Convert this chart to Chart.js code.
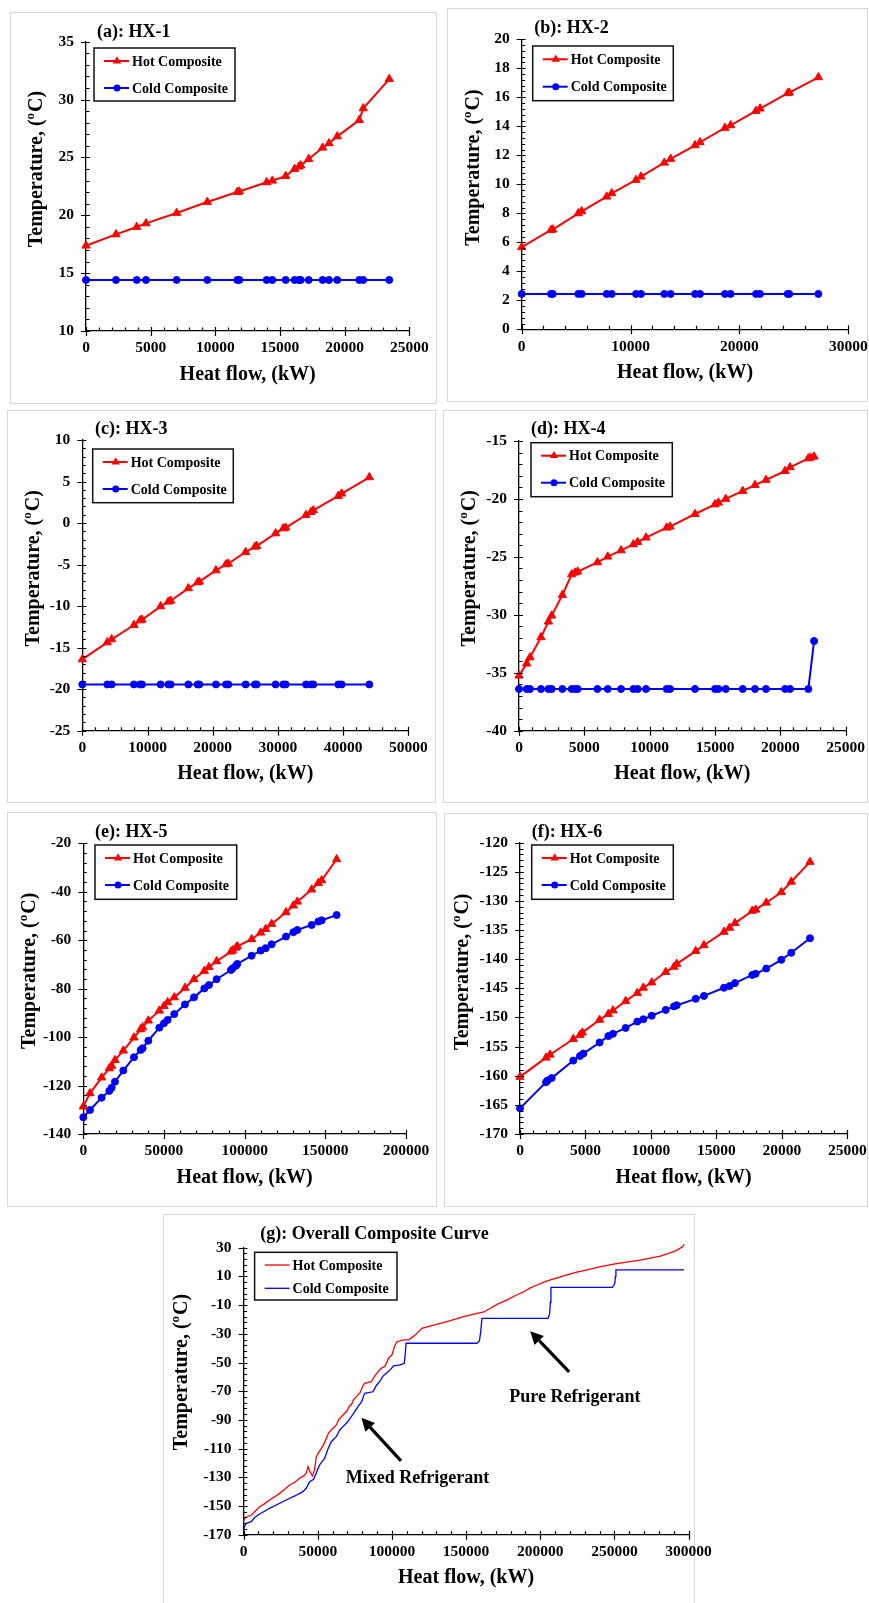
<!DOCTYPE html>
<html>
<head>
<meta charset="utf-8">
<title>Composite curves HX-1 to HX-6</title>
<script src="https://cdn.jsdelivr.net/npm/chart.js@4.4.1/dist/chart.umd.min.js"></script>
<style>
  html, body { margin: 0; padding: 0; background: #fff; }
  body { position: relative; width: 869px; height: 1603px; overflow: hidden; }
  .frame { position: absolute; box-sizing: border-box; border: 1px solid #d6d6d6; }
  canvas { position: absolute; }
</style>
</head>
<body>
<script>
// ---- data (heat flow in kW, temperature in degC) ----
var hx1Flow = [0, 2320, 3920, 4640, 7010, 9380, 11700, 11860, 13970, 14410, 15440, 16130, 16470, 16600, 17220, 18300, 18790, 19430, 21130, 21440, 23450];
var hx1Hot = [17.37, 18.35, 18.99, 19.30, 20.20, 21.15, 22.01, 22.05, 22.85, 22.99, 23.39, 24.00, 24.20, 24.31, 24.86, 25.84, 26.22, 26.82, 28.23, 29.24, 31.77];
var hx1Cold = [14.41, 14.41, 14.41, 14.41, 14.41, 14.41, 14.41, 14.41, 14.41, 14.41, 14.41, 14.41, 14.41, 14.41, 14.41, 14.41, 14.41, 14.41, 14.41, 14.41, 14.41];

var hx2Flow = [0, 2690, 2850, 5200, 5510, 7810, 8270, 10500, 10960, 13100, 13680, 15920, 16380, 18670, 19190, 21520, 21890, 24430, 24580, 27250];
var hx2Hot = [5.66, 6.85, 6.88, 8.00, 8.14, 9.15, 9.38, 10.30, 10.53, 11.49, 11.75, 12.69, 12.90, 13.89, 14.07, 15.06, 15.22, 16.28, 16.32, 17.38];
var hx2Cold = [2.44, 2.44, 2.44, 2.44, 2.44, 2.44, 2.44, 2.44, 2.44, 2.44, 2.44, 2.44, 2.44, 2.44, 2.44, 2.44, 2.44, 2.44, 2.44, 2.44];

var hx3Flow = [0, 3830, 4500, 7920, 8850, 9150, 12010, 13190, 13550, 16260, 17690, 17950, 20500, 22040, 22390, 25050, 26480, 26740, 29650, 30830, 31190, 34310, 35070, 35430, 39260, 39780, 44020];
var hx3Hot = [-16.42, -14.37, -14.00, -12.28, -11.72, -11.64, -10.03, -9.47, -9.35, -7.86, -7.14, -7.06, -5.70, -4.97, -4.89, -3.49, -2.85, -2.77, -1.24, -0.64, -0.56, 0.97, 1.33, 1.53, 3.26, 3.54, 5.51];
var hx3Cold = [-19.43, -19.43, -19.43, -19.43, -19.43, -19.43, -19.43, -19.43, -19.43, -19.43, -19.43, -19.43, -19.43, -19.43, -19.43, -19.43, -19.43, -19.43, -19.43, -19.43, -19.43, -19.43, -19.43, -19.43, -19.43, -19.43, -19.43];

var hx4HotFlow = [0, 590, 840, 1680, 2250, 2500, 3320, 4030, 4290, 4490, 6000, 6790, 7810, 8750, 9080, 9720, 11300, 11560, 13470, 15000, 15260, 15820, 17120, 18060, 18900, 20360, 20740, 22140, 22320, 22580];
var hx4Hot = [-35.25, -34.21, -33.67, -31.94, -30.59, -30.07, -28.29, -26.51, -26.36, -26.27, -25.47, -24.98, -24.44, -23.92, -23.72, -23.34, -22.48, -22.39, -21.30, -20.47, -20.32, -20.00, -19.31, -18.80, -18.36, -17.59, -17.27, -16.50, -16.44, -16.35];
var hx4ColdFlow = [0, 590, 840, 1680, 2250, 2500, 3320, 4030, 4290, 4490, 6000, 6790, 7810, 8750, 9080, 9720, 11300, 11560, 13470, 15000, 15260, 15820, 17120, 18060, 18900, 20360, 20740, 22140, 22580];
var hx4Cold = [-36.40, -36.40, -36.40, -36.40, -36.40, -36.40, -36.40, -36.40, -36.40, -36.40, -36.40, -36.40, -36.40, -36.40, -36.40, -36.40, -36.40, -36.40, -36.40, -36.40, -36.40, -36.40, -36.40, -36.40, -36.40, -36.40, -36.40, -36.40, -32.26];

var hx5Flow = [0, 4130, 11360, 16120, 17560, 19630, 24790, 31400, 35540, 36780, 40290, 47110, 50000, 52270, 56400, 63020, 68600, 75000, 77890, 82640, 91530, 92560, 94630, 95450, 104340, 109920, 113020, 116740, 125620, 130170, 132640, 141530, 145660, 147730, 157020];
var hx5Hot = [-128.7, -123.2, -116.7, -112.9, -111.9, -109.5, -105.6, -100.2, -96.8, -96.0, -93.2, -89.1, -87.2, -85.6, -83.6, -79.7, -76.1, -72.7, -71.1, -68.7, -64.7, -64.2, -63.1, -62.5, -59.6, -56.9, -55.4, -53.3, -48.5, -45.7, -44.1, -39.1, -36.4, -35.3, -26.6];
var hx5Cold = [-133.1, -130.1, -125.0, -122.2, -120.9, -118.4, -113.8, -108.3, -105.3, -104.6, -101.5, -96.1, -94.3, -92.9, -90.5, -86.5, -83.6, -79.9, -78.5, -76.1, -72.3, -71.6, -70.5, -69.8, -66.4, -64.3, -63.3, -61.7, -58.5, -56.7, -55.8, -53.7, -52.3, -51.8, -49.6];

var hx6HotFlow = [0, 1990, 2290, 4070, 4580, 4760, 6080, 6750, 7100, 8070, 8960, 9420, 10060, 11130, 11760, 11970, 13420, 14050, 15580, 16010, 16420, 17740, 18000, 18810, 19960, 20720, 22150];
var hx6Hot = [-160.2, -156.9, -156.4, -153.7, -153.0, -152.6, -150.4, -149.4, -148.8, -147.2, -145.8, -144.9, -144.0, -142.2, -141.3, -140.8, -138.6, -137.6, -135.3, -134.6, -133.8, -131.7, -131.5, -130.3, -128.5, -126.7, -123.3];
var hx6ColdFlow = [0, 1990, 2110, 2420, 4070, 4580, 4840, 6080, 6750, 7100, 8070, 8960, 9420, 10060, 11130, 11760, 11970, 13420, 14050, 15580, 16010, 16420, 17740, 18000, 18810, 19960, 20720, 22150];
var hx6Cold = [-165.6, -161.1, -160.8, -160.4, -157.4, -156.6, -156.2, -154.3, -153.2, -152.8, -151.8, -150.7, -150.3, -149.7, -148.7, -148.1, -147.9, -146.8, -146.3, -144.9, -144.6, -144.1, -142.7, -142.5, -141.6, -140.1, -138.9, -136.4];

var overallHotFlow = [0, 700, 2800, 5200, 7000, 10800, 14000, 17500, 21000, 24300, 27500, 31000, 34500, 37800, 40500, 42300, 43400, 44500, 46300, 47800, 49000, 50800, 52400, 54500, 57300, 59100, 62500, 64300, 67000, 69500, 71500, 72600, 74000, 76000, 78500, 80500, 81600, 86100, 88700, 91700, 93500, 95100, 96700, 98400, 100000, 101800, 103400, 107900, 111200, 113500, 115700, 118000, 120200, 128100, 137100, 148300, 159600, 162000, 166300, 171500, 177600, 183000, 188800, 193000, 197800, 202000, 206800, 212000, 218000, 224000, 231500, 240000, 249400, 258000, 267400, 274000, 280900, 286000, 289900, 292500, 294400, 296000, 297000];
var overallHot = [-160.5, -158.6, -157.3, -156.3, -154.5, -150.5, -148.5, -145.8, -143.5, -141.2, -138.5, -135.4, -133.5, -130.7, -129.0, -127.2, -122.6, -125.5, -129.1, -125.0, -115.6, -112.5, -109.8, -106.0, -99.0, -97.0, -93.5, -89.5, -86.6, -84.0, -80.0, -79.6, -76.0, -73.8, -71.0, -66.0, -64.5, -63.4, -59.0, -55.2, -53.5, -52.9, -49.4, -46.0, -44.8, -38.5, -35.5, -34.3, -34.3, -32.5, -30.8, -28.5, -26.2, -23.9, -21.6, -18.1, -15.3, -14.8, -12.2, -9.2, -6.4, -3.5, -0.7, 1.8, 4.0, 5.8, 7.5, 9.2, 11.0, 12.8, 14.5, 16.6, 18.6, 20.0, 21.4, 22.7, 24.2, 25.8, 27.2, 28.5, 29.7, 30.8, 32.3];
var overallColdFlow = [0, 700, 1800, 5200, 7500, 9700, 13500, 17500, 23000, 28800, 34500, 40000, 42300, 44500, 47200, 49000, 51200, 54600, 57000, 59100, 62500, 64800, 67000, 70000, 72600, 75000, 77100, 79500, 81600, 87200, 89500, 91700, 94000, 96200, 98500, 101100, 105600, 108300, 109000, 109500, 157300, 159000, 159900, 160700, 205200, 206300, 206800, 207200, 248700, 250200, 250700, 251000, 297000];
var overallCold = [-166.5, -164.0, -162.1, -160.9, -158.0, -156.3, -154.0, -151.6, -148.8, -145.8, -143.0, -140.0, -137.5, -133.1, -131.4, -127.0, -121.4, -116.8, -110.0, -105.2, -101.7, -97.0, -94.7, -91.5, -87.8, -84.0, -80.8, -77.5, -71.5, -70.4, -66.0, -63.4, -59.5, -57.5, -55.5, -52.4, -51.7, -50.6, -44.0, -36.6, -36.6, -35.0, -28.0, -19.2, -19.2, -16.0, -8.0, 2.4, 2.4, 5.0, 10.0, 14.5, 14.5];

var seriesNames = ['Hot Composite', 'Cold Composite'];
var yTitleParts = ['Temperature, (', 'o', 'C)'];
var xTitle = 'Heat flow, (kW)';

var SERIF = '"Liberation Serif", "Times New Roman", serif';
var RED = '#ff0000', BLUE = '#0000ff';

// ---- page layout of the seven panels (page pixels) ----
var panels = [
  { box: [10, 12, 437, 404], plot: [86, 41.7, 409.3, 331], title: '(a): HX-1', titleAt: [97, 32],
    legendAt: [94, 48, 141, 53], rows: [13, 40], xTitleY: 375, yTitleAt: [35, 169],
    x: [0, 25000, 5000, 1000], y: [10, 35, 5, 1],
    hot: [hx1Flow, hx1Hot], cold: [hx1Flow, hx1Cold], markers: true },
  { box: [447, 8, 868, 402], plot: [521.7, 39.3, 848.3, 329.3], title: '(b): HX-2', titleAt: [534.3, 28.3],
    legendAt: [532.7, 46, 140.6, 54.7], rows: [13.3, 40.7], xTitleY: 373.3, yTitleAt: [471.7, 167.5],
    x: [0, 30000, 10000, 2000], y: [0, 20, 2, 0.4],
    hot: [hx2Flow, hx2Hot], cold: [hx2Flow, hx2Cold], markers: true },
  { box: [7, 410, 436, 803], plot: [82.3, 440, 408.3, 730.7], title: '(c): HX-3', titleAt: [95, 429.3],
    legendAt: [92.7, 449, 140.6, 53.7], rows: [13, 40], xTitleY: 774.3, yTitleAt: [31.7, 568.3],
    x: [0, 50000, 10000, 2000], y: [-25, 10, 5, 1],
    hot: [hx3Flow, hx3Hot], cold: [hx3Flow, hx3Cold], markers: true },
  { box: [443, 410, 868, 803], plot: [519, 441, 845.7, 730.7], title: '(d): HX-4', titleAt: [531, 429.3],
    legendAt: [531, 442.7, 141.3, 54], rows: [13, 40], xTitleY: 774.3, yTitleAt: [468.3, 568.3],
    x: [0, 25000, 5000, 1000], y: [-40, -15, 5, 1],
    hot: [hx4HotFlow, hx4Hot], cold: [hx4ColdFlow, hx4Cold], markers: true },
  { box: [7, 812, 437, 1207], plot: [83.3, 843.3, 406, 1134], title: '(e): HX-5', titleAt: [95, 832.3],
    legendAt: [95, 845, 141.7, 54.3], rows: [13, 40], xTitleY: 1177.7, yTitleAt: [28.3, 970.8],
    x: [0, 200000, 50000, 10000], y: [-140, -20, 20, 4],
    hot: [hx5Flow, hx5Hot], cold: [hx5Flow, hx5Cold], markers: true },
  { box: [444, 813, 868, 1207], plot: [520, 842.7, 847.3, 1134], title: '(f): HX-6', titleAt: [531.7, 832.3],
    legendAt: [531.7, 845, 141.6, 54.3], rows: [13, 40], xTitleY: 1177.7, yTitleAt: [461, 971.7],
    x: [0, 25000, 5000, 1000], y: [-170, -120, 5, 1],
    hot: [hx6HotFlow, hx6Hot], cold: [hx6ColdFlow, hx6Cold], markers: true },
  { box: [162.7, 1214, 695, 1610], plot: [243.3, 1247.7, 688.3, 1534.7], title: '(g): Overall Composite Curve', titleAt: [260, 1234.3],
    legendAt: [254.3, 1252.3, 142.4, 47.7], rows: [12.7, 36], xTitleY: 1578.3, yTitleAt: [180, 1372],
    x: [0, 300000, 50000, 10000], y: [-170, 30, 20, 4],
    hot: [overallHotFlow, overallHot], cold: [overallColdFlow, overallCold], markers: false,
    notes: [{ text: 'Pure Refrigerant', at: [223350, -74.5] }, { text: 'Mixed Refrigerant', at: [117240, -130.6] }],
    arrows: [{ from: [219440, -56.5], to: [193220, -28.2] }, { from: [106120, -118.6], to: [79420, -88.5] }] }
];

function pts(xs, ys) {
  return xs.map(function (x, i) { return { x: x, y: ys[i] }; });
}

function marker(ctx, style, x, y, r, color) {
  ctx.fillStyle = color;
  ctx.beginPath();
  if (style === 'triangle') {
    ctx.moveTo(x, y - r);
    ctx.lineTo(x + r * 0.866, y + r * 0.5);
    ctx.lineTo(x - r * 0.866, y + r * 0.5);
    ctx.closePath();
  } else {
    ctx.arc(x, y, r, 0, Math.PI * 2);
  }
  ctx.fill();
}

function drawTicks(ctx, xs, ys, p) {
  var i, n, every, px, big;
  ctx.strokeStyle = '#000';
  ctx.lineWidth = 1.2;
  ctx.beginPath();
  n = Math.round((xs.max - xs.min) / p.x[3]);
  every = Math.round(p.x[2] / p.x[3]);
  for (i = 0; i <= n; i++) {
    px = Math.round(xs.getPixelForValue(xs.min + i * p.x[3])) + 0.5;
    big = i % every === 0;
    ctx.moveTo(px, ys.bottom - (big ? 4 : 3.5));
    ctx.lineTo(px, ys.bottom + (big ? 5 : 0));
  }
  n = Math.round((ys.max - ys.min) / p.y[3]);
  every = Math.round(p.y[2] / p.y[3]);
  for (i = 0; i <= n; i++) {
    px = Math.round(ys.getPixelForValue(ys.min + i * p.y[3])) + 0.5;
    big = i % every === 0;
    ctx.moveTo(xs.left - (big ? 5 : 0), px);
    ctx.lineTo(xs.left + (big ? 4 : 3.5), px);
  }
  ctx.stroke();
}

function drawYTitle(ctx, cx, cy) {
  var big = 'bold 20px ' + SERIF, small = 'bold 13px ' + SERIF, wa, wb, wc, x;
  ctx.save();
  ctx.translate(cx, cy);
  ctx.rotate(-Math.PI / 2);
  ctx.fillStyle = '#000';
  ctx.textAlign = 'left';
  ctx.textBaseline = 'alphabetic';
  ctx.font = big;
  wa = ctx.measureText(yTitleParts[0]).width;
  wc = ctx.measureText(yTitleParts[2]).width;
  ctx.font = small;
  wb = ctx.measureText(yTitleParts[1]).width + 1;
  x = -(wa + wb + wc) / 2;
  ctx.font = big;
  ctx.fillText(yTitleParts[0], x, 7);
  ctx.font = small;
  ctx.fillText(yTitleParts[1], x + wa, -1);
  ctx.font = big;
  ctx.fillText(yTitleParts[2], x + wa + wb, 7);
  ctx.restore();
}

function drawLegend(ctx, chart, p, ox, oy) {
  var L = p.legendAt, lx = L[0] - ox, ly = L[1] - oy;
  ctx.fillStyle = '#fff';
  ctx.fillRect(lx, ly, L[2], L[3]);
  ctx.strokeStyle = '#111';
  ctx.lineWidth = 1.5;
  ctx.strokeRect(lx, ly, L[2], L[3]);
  chart.data.datasets.forEach(function (ds, i) {
    var y = ly + p.rows[i];
    ctx.strokeStyle = ds.borderColor;
    ctx.lineWidth = ds.borderWidth;
    ctx.beginPath();
    ctx.moveTo(lx + 10, y);
    ctx.lineTo(lx + 35, y);
    ctx.stroke();
    if (p.markers) {
      marker(ctx, ds.pointStyle, lx + 23, y, ds.pointRadius, ds.borderColor);
    }
    ctx.fillStyle = '#000';
    ctx.font = 'bold 14px ' + SERIF;
    ctx.textAlign = 'left';
    ctx.textBaseline = 'middle';
    ctx.fillText(ds.label, lx + 38, y + 1);
  });
}

function drawArrow(ctx, x1, y1, x2, y2) {
  var a = Math.atan2(y2 - y1, x2 - x1), len = 13, hw = 6.5,
      bx = x2 - Math.cos(a) * len, by = y2 - Math.sin(a) * len;
  ctx.strokeStyle = '#000';
  ctx.fillStyle = '#000';
  ctx.lineWidth = 3.2;
  ctx.beginPath();
  ctx.moveTo(x1, y1);
  ctx.lineTo(bx, by);
  ctx.stroke();
  ctx.beginPath();
  ctx.moveTo(x2, y2);
  ctx.lineTo(bx + Math.sin(a) * hw, by - Math.cos(a) * hw);
  ctx.lineTo(bx - Math.sin(a) * hw, by + Math.cos(a) * hw);
  ctx.closePath();
  ctx.fill();
}

var deco = {
  id: 'deco',
  afterDraw: function (chart, args, p) {
    var ctx = chart.ctx,
        xs = chart.scales.x,
        ys = chart.scales.y,
        ox = p.box[0], oy = p.box[1];
    ctx.save();
    drawTicks(ctx, xs, ys, p);

    ctx.fillStyle = '#000';
    ctx.textBaseline = 'middle';
    ctx.textAlign = 'left';
    ctx.font = 'bold 18px ' + SERIF;
    ctx.fillText(p.title, p.titleAt[0] - ox, p.titleAt[1] - oy);

    ctx.textAlign = 'center';
    ctx.font = 'bold 20px ' + SERIF;
    ctx.fillText(xTitle, (xs.left + xs.right) / 2, p.xTitleY - oy);
    drawYTitle(ctx, p.yTitleAt[0] - ox, p.yTitleAt[1] - oy);

    (p.arrows || []).forEach(function (a) {
      drawArrow(ctx, xs.getPixelForValue(a.from[0]), ys.getPixelForValue(a.from[1]),
        xs.getPixelForValue(a.to[0]), ys.getPixelForValue(a.to[1]));
    });
    (p.notes || []).forEach(function (n) {
      ctx.fillStyle = '#000';
      ctx.font = 'bold 18px ' + SERIF;
      ctx.textAlign = 'center';
      ctx.textBaseline = 'middle';
      ctx.fillText(n.text, xs.getPixelForValue(n.at[0]), ys.getPixelForValue(n.at[1]));
    });

    drawLegend(ctx, chart, p, ox, oy);
    ctx.restore();
  }
};

Chart.defaults.font.family = SERIF;
Chart.defaults.font.weight = 'bold';
Chart.defaults.color = '#000';

panels.forEach(function (p) {
  var frame = document.createElement('div'),
      canvas = document.createElement('canvas'),
      L = p.box[0], T = p.box[1],
      W = Math.ceil(p.plot[2] + 45 - L),
      H = Math.min(p.box[3], 1603) - T,
      tickFont = { family: SERIF, weight: 'bold', size: 15.5 };

  frame.className = 'frame';
  frame.style.left = L + 'px';
  frame.style.top = T + 'px';
  frame.style.width = (p.box[2] - L) + 'px';
  frame.style.height = (p.box[3] - T) + 'px';
  document.body.appendChild(frame);

  canvas.width = W;
  canvas.height = H;
  canvas.style.left = L + 'px';
  canvas.style.top = T + 'px';
  document.body.appendChild(canvas);

  new Chart(canvas.getContext('2d'), {
    type: 'scatter',
    data: {
      datasets: [
        { label: seriesNames[0], data: pts(p.hot[0], p.hot[1]), showLine: true,
          borderColor: RED, backgroundColor: RED, pointBackgroundColor: RED, pointBorderColor: RED,
          borderWidth: p.markers ? 2 : 1.3, pointStyle: 'triangle', pointRadius: p.markers ? 4.8 : 0,
          pointBorderWidth: 1, clip: false },
        { label: seriesNames[1], data: pts(p.cold[0], p.cold[1]), showLine: true,
          borderColor: BLUE, backgroundColor: BLUE, pointBackgroundColor: BLUE, pointBorderColor: BLUE,
          borderWidth: p.markers ? 2 : 1.3, pointStyle: 'circle', pointRadius: p.markers ? 3.5 : 0,
          pointBorderWidth: 1, clip: false }
      ]
    },
    options: {
      responsive: false,
      animation: false,
      events: [],
      layout: { padding: { left: 0, top: p.plot[1] - T, right: W - (p.plot[2] - L), bottom: 0 } },
      plugins: { legend: { display: false }, tooltip: { enabled: false }, deco: p },
      scales: {
        x: {
          type: 'linear', min: p.x[0], max: p.x[1],
          afterFit: function (s) { s.height = H - (p.plot[3] - T); },
          grid: { display: false, drawTicks: false },
          border: { display: true, color: '#000', width: 1.3 },
          ticks: { stepSize: p.x[2], font: tickFont, color: '#000', padding: 8, maxRotation: 0, autoSkip: false,
                   callback: function (v) { return String(v); } }
        },
        y: {
          type: 'linear', min: p.y[0], max: p.y[1],
          afterFit: function (s) { s.width = p.plot[0] - L; },
          grid: { display: false, drawTicks: false },
          border: { display: true, color: '#000', width: 1.3 },
          ticks: { stepSize: p.y[2], font: tickFont, color: '#000', padding: 12, autoSkip: false,
                   callback: function (v) { return String(v); } }
        }
      }
    },
    plugins: [deco]
  });
});
</script>
</body>
</html>
